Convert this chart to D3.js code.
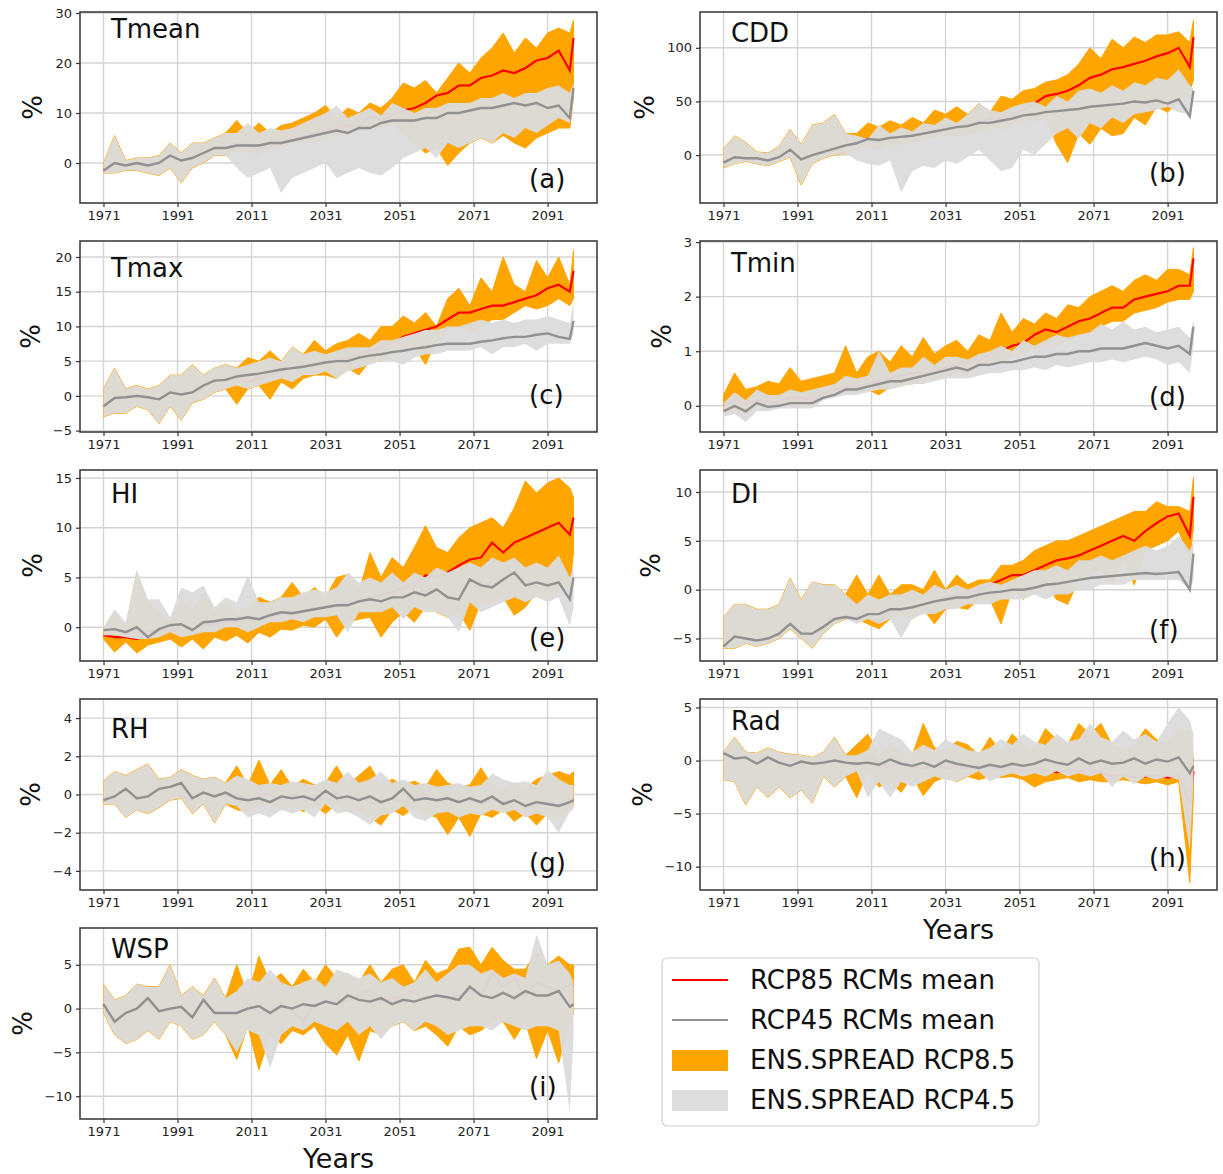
<!DOCTYPE html>
<html>
<head>
<meta charset="utf-8">
<script src="https://cdn.jsdelivr.net/npm/d3@7"></script>
<style>
  body { margin: 0; background: #fff; }
  svg { display: block; }
  text { font-family: "DejaVu Sans", sans-serif; }
</style>
</head>
<body>
<svg id="chart" width="1223" height="1174"></svg>
<script>
// years: 1971..2004 (historical) + 2007..2098 (scenarios), one sample every 3 years
var years = [1971,1974,1977,1980,1983,1986,1989,1992,1995,1998,2001,2004,
  2007,2010,2013,2016,2019,2022,2025,2028,2031,2034,2037,2040,2043,2046,2049,2052,
  2055,2058,2061,2064,2067,2070,2073,2076,2079,2082,2085,2088,2091,2094,2097,2098];
var xTicks = [1971,1991,2011,2031,2051,2071,2091];
var legendLabels = ['RCP85 RCMs mean','RCP45 RCMs mean','ENS.SPREAD RCP8.5','ENS.SPREAD RCP4.5'];

// Tmean
var tmean85Mean = [-1.5,0,-0.5,0,-0.5,0,1.5,0.5,1,2,3,3, 4,3.5,2.5,4.5,4,5,5.5,6,6.5,7,7.5,7.5,9.5,8.5,9.5,10.5,11,12,13.5,14,15.5,15.5,17,17.5,18.5,18,19,20.5,21,22.5,18.5,25];
var tmean85Hi = [0,5.5,0.5,1,1,1.5,4,2,4,4,5,6, 8.5,6,8,6,7.5,8,9,10,11.5,9,11,10,12,11,13,16,15,16.5,14,17,20,18,21,23,26,22,25,23,26,27,26,28.5];
var tmean85Lo = [-2,-2,-1.5,-1.5,-2,-2.5,-1,-4,-1,0,1.5,1.5, 2.5,2,1.5,3,3,4,4.5,4,5,5.5,6,6.5,7,7,8,6,4,2,3,-0.5,2,4,5,4,5.5,4,3,5,6,7,7,13];
var tmean45Mean = [-1.5,0,-0.5,0,-0.5,0,1.5,0.5,1,2,3,3, 3.5,3.5,3.5,4,4,4.5,5,5.5,6,6.5,6,7,7,8,8.5,8.5,8.5,9,9,10,10,10.5,11,11,11.5,12,11.5,12,11,11.5,9,15];
var tmean45Hi = [0,5.5,0.5,1,1,1.5,4,2,4,4,5,6, 6,8,6,7,6.5,7,8,9,10,11.5,9,10,11,9.5,12,11,10,11,11,12,12,12,13,13,14,13,14,14,15,15.5,14,16];
var tmean45Lo = [-2,-2,-1.5,-1.5,-2,-2.5,-1,-4,-1,0,1.5,1.5, -1,-3,-2,-1,-6,-3,-2,-1,0,-3,-2,-1,-2,-2.5,-1,1,2,3,1,4,3,4,5,4,6,5,7,6,7.5,9,8,12];

// CDD
var cdd85Mean = [-7,-2,-3,-3,-5,-2,5,-4,0,3,6,9, 12,14,12,16,17,19,21,24,26,27,29,30,34,34,38,42,48,55,57,60,65,72,75,80,82,85,88,92,95,100,82,110];
var cdd85Hi = [6,18,12,3,2,8,24,10,28,30,38,20, 20,30,26,32,28,35,30,42,38,45,38,48,40,55,52,60,62,68,70,75,85,100,90,108,100,110,105,112,112,115,105,126];
var cdd85Lo = [-12,-8,-6,-8,-10,-6,-2,-28,-8,-3,0,2, 5,8,5,10,8,12,14,16,18,18,20,22,25,24,28,30,32,35,10,-7,20,10,25,18,20,35,28,45,40,50,60,70];
var cdd45Mean = [-7,-2,-3,-3,-5,-2,5,-4,0,3,6,9, 11,15,14,16,17,18,20,22,24,26,27,30,30,32,34,37,38,40,41,42,43,45,46,47,48,50,49,51,48,52,36,60];
var cdd45Hi = [6,18,12,3,2,8,24,10,28,30,38,20, 18,15,28,20,26,22,30,28,35,30,38,48,42,40,45,48,50,45,55,50,60,62,58,65,60,68,65,72,70,80,65,62];
var cdd45Lo = [-12,-8,-6,-8,-10,-6,-2,-28,-8,-3,0,2, -5,-8,-10,-5,-35,-15,-10,-12,-5,-8,-2,5,-5,-15,-12,5,0,10,20,25,15,30,25,35,30,38,40,42,45,40,38,55];

// Tmax
var tmax85Mean = [-1.5,-0.3,-0.2,0,-0.2,-0.5,0.5,0.2,0.5,1.5,2.2,2.3, 2.5,2,2.5,3,3.5,4,4.5,4.5,5,5,5.5,6,6.5,7,7.5,8.5,9,9.5,10,11,12,12,12.5,13,13,13.5,14,14.5,15.5,16,15,18];
var tmax85Hi = [1,4,1,1.5,1,1.5,3,3,4.5,3,4,4.5, 4,5.5,5,6.5,5,7,6,8,6.5,7.5,8,9,8,10,10,11.5,10.5,12,10,14,15.5,13,17,15,20,16,15,19.5,17,20,16,21];
var tmax85Lo = [-3,-2.5,-2.5,-1.5,-2,-4,-1.5,-3.5,-1,-0.5,0.5,1, -1.2,1,1.5,-0.5,2,1,2.5,3,3,2.5,4,3,5,5,6,6.5,7,4.5,8,9.5,10,9,10,11,11,12,13,12.5,13,14,13,14];
var tmax45Mean = [-1.5,-0.3,-0.2,0,-0.2,-0.5,0.5,0.2,0.5,1.5,2.2,2.3, 2.8,3,3.2,3.5,3.8,4,4.2,4.5,4.8,5,5,5.5,5.8,6,6.3,6.5,6.8,7,7.3,7.5,7.5,7.5,7.8,8,8.3,8.5,8.5,8.8,9,8.5,8.2,10.8];
var tmax45Hi = [1,4,1,1.5,1,1.5,3,3,4.5,3,4,4.5, 4,4.5,5,5.5,5,7,6,6.5,6,6.5,7,7,7,8,8,8.5,9,9.5,9.5,10,10,10.5,11,10.5,11,10.5,11,11,11.5,11,10.5,13.5];
var tmax45Lo = [-3,-2.5,-2.5,-1.5,-2,-4,-1.5,-3.5,-1,-0.5,0.5,1, 1.5,1,1.5,2,2.5,2,3,3,3.5,2.5,3.5,4,4.5,5,5,4.5,5.5,6,6,6.5,6.5,6.5,7,6,7,7,7.5,6.5,7.5,7.5,7.5,9];

// Tmin
var tmin85Mean = [0,0.1,0.05,0.1,0.05,0.08,0.15,0.15,0.1,0.25,0.3,0.35, 0.35,0.4,0.45,0.5,0.55,0.6,0.6,0.65,0.7,0.75,0.8,0.85,0.95,1.0,1.1,1.15,1.3,1.4,1.35,1.45,1.55,1.6,1.7,1.8,1.8,1.95,2.0,2.05,2.1,2.2,2.2,2.7];
var tmin85Hi = [0.2,0.6,0.3,0.35,0.45,0.4,0.7,0.45,0.5,0.55,0.6,1.1, 0.6,0.9,1.0,0.8,1.1,0.9,1.25,0.95,1.1,1.2,1.0,1.3,1.2,1.7,1.35,1.6,1.5,1.7,1.6,1.85,1.8,2.0,2.1,2.2,2.1,2.3,2.4,2.3,2.5,2.5,2.4,2.9];
var tmin85Lo = [-0.1,-0.1,-0.15,0,-0.05,0,0,0.05,0,0.15,0.2,0.25, 0.25,0.3,0.2,0.35,0.4,0.4,0.5,0.5,0.55,0.6,0.6,0.7,0.75,0.8,0.9,0.95,1.05,1.1,1.1,1.2,1.3,1.35,1.45,1.55,1.55,1.7,1.75,1.8,1.9,1.95,1.95,2.1];
var tmin45Mean = [-0.1,0,-0.1,0.05,-0.02,0,0.05,0.05,0.05,0.15,0.2,0.3, 0.3,0.35,0.4,0.45,0.45,0.5,0.55,0.6,0.65,0.7,0.65,0.75,0.75,0.8,0.8,0.85,0.9,0.9,0.95,0.95,1.0,1.0,1.05,1.05,1.05,1.1,1.15,1.1,1.05,1.1,0.95,1.45];
var tmin45Hi = [0.05,0.25,0.1,0.3,0.2,0.2,0.3,0.25,0.3,0.35,0.4,0.55, 0.5,0.55,1.0,0.6,0.7,0.7,0.9,0.75,0.9,0.9,0.85,0.95,1.0,1.1,1.0,1.2,1.1,1.2,1.3,1.25,1.3,1.35,1.5,1.4,1.55,1.4,1.45,1.35,1.4,1.45,1.25,1.6];
var tmin45Lo = [-0.2,-0.15,-0.3,-0.1,-0.1,-0.05,-0.05,-0.05,-0.05,0.1,0.15,0.2, 0.2,0.25,0.3,0.3,0.35,0.4,0.4,0.45,0.5,0.5,0.5,0.55,0.6,0.6,0.65,0.65,0.7,0.65,0.75,0.7,0.75,0.8,0.8,0.85,0.8,0.85,0.9,0.85,0.75,0.8,0.6,1.1];

// HI
var hi85Mean = [-0.8,-1,-1,-1.2,-0.5,-0.3,-0.3,0,-0.2,0.2,0.3,0.5, 0.6,0.8,0.7,1.0,1.3,1.5,1.6,1.8,2.0,2.1,2.5,2.6,3.0,3.3,3.5,4.0,4.2,5.2,5.0,5.5,6.2,6.8,7.0,8.5,7.5,8.5,9.0,9.5,10.0,10.5,9.3,11];
var hi85Hi = [-0.2,1.5,0,5.5,2.5,1.5,0.5,3,1.5,3.5,1.5,2.5, 1.5,2,3,2.5,3,4.5,3,4,3,5,5.3,3.5,7.5,5,7,6,8,10.2,8,7.5,9,10,10.5,11,10,12,14.7,13.5,14.5,15,14,13];
var hi85Lo = [-1.2,-2.5,-1.5,-2.6,-1.8,-1.5,-1.2,-2,-1.2,-2.2,-1,-1.4, -0.8,-1.6,-0.5,-1,-0.2,-0.3,0.2,0,0.8,-1,0.5,0.8,1.0,-1,0.5,1.5,0.5,2,1.5,1,1.5,-0.3,2.5,2.5,3,1.2,2,3.5,2.8,3.5,4,7.5];
var hi45Mean = [-0.3,-0.2,-0.5,0,-1,-0.2,0.2,0.3,-0.3,0.5,0.6,0.8, 0.8,1.0,0.8,1.2,1.5,1.4,1.6,1.8,2.0,2.2,2.2,2.6,2.8,2.6,3.0,3.0,3.5,3.2,3.8,3.0,2.8,4.8,4.2,4.0,4.8,5.5,4.2,4.5,4.2,4.5,2.8,5];
var hi45Hi = [0,1.8,0.5,5.8,2.8,2.8,1,4,3.5,4.2,2,3, 2.5,5.2,2.5,2.5,3,3,3.5,3.8,3.5,4,5.5,4.5,5,4.5,5.5,4.5,5.5,5,6,5.5,6,6.5,6,7,6.5,7,6,6.5,6,7.2,5,6];
var hi45Lo = [-0.8,-0.8,-1,-1.2,-1.2,-1,-0.5,-1,-0.8,-0.5,-0.5,0, 0,-0.5,0,0.5,0.5,0.8,0.5,1,1,1.2,-0.5,1.5,1.5,1.5,2,0.8,2,1.5,1.5,1,-0.5,2.5,1.5,2,2.5,3,2.5,3,2.5,3,0.1,2];

// DI
var di85Mean = [-5.8,-4.8,-5,-5.2,-5,-4.5,-3.5,-4.5,-4.5,-3.8,-3,-2.8, -2.8,-2.8,-3.3,-2.2,-2,-1.8,-1.5,-1.2,-0.8,-0.5,-0.2,0,0.5,1.0,1.5,1.5,2.0,2.5,3.0,3.2,3.5,4.0,4.5,5.0,5.5,5.0,6.0,6.8,7.5,7.8,5.5,9.5];
var di85Hi = [-2.8,-1.5,-1.5,-2,-2,-1.5,1.2,-1,0.8,0.5,0.5,-0.5, 1.5,-0.5,1.5,-0.5,0.5,0.5,0,2,0,1.5,0.5,1,1,2.5,2.5,3,4,4.5,5,5,5.5,6,6.5,7,7.5,8,8,9,8.5,8.5,8,11.5];
var di85Lo = [-6,-6,-5.5,-5.8,-5.5,-5,-4,-5,-6,-4.5,-3.5,-3, -3,-3.5,-4,-3,-2.5,-3,-2,-3.5,-2,-1.8,-2,-1,-1,-3.5,0,-1,0,0.5,-1,-1.5,1,1.5,2,0.5,3,0.5,4,4.5,5,6,3,6.5];
var di45Mean = [-5.8,-4.8,-5,-5.2,-5,-4.5,-3.5,-4.5,-4.5,-3.8,-3,-2.8, -3,-2.5,-2.5,-2,-2,-1.8,-1.5,-1.2,-1.0,-0.8,-0.8,-0.5,-0.3,-0.2,0,0,0.2,0.5,0.6,0.8,1.0,1.2,1.3,1.4,1.5,1.6,1.7,1.6,1.7,1.8,0,3.7];
var di45Hi = [-2.8,-1.5,-1.5,-2,-2,-1.5,1.2,-1,0.8,0.5,0.5,-0.5, -1.5,-0.5,-1,-0.5,-0.5,0,-0.5,0.5,0,0.5,0,0.5,0.8,0.5,1,1.5,2,2,2.5,2,3,3,3.5,3,3.5,4,4.5,4,4.5,5.5,4,5];
var di45Lo = [-6,-6,-5.5,-5.8,-5.5,-5,-4,-5,-6,-4.5,-3.5,-3, -3.5,-3,-3.5,-3,-5,-3,-2.5,-2.5,-2,-2,-1.5,-1.5,-1.5,-1,-1,-1,-0.5,-1,-0.5,-0.5,0,0,0.5,0.5,0.5,1,1,1,1,1,0,1];

// RH
var rh85Mean = [-0.3,-0.1,0.3,-0.2,-0.1,0.3,0.4,0.6,-0.2,0.1,-0.1,0.1, 0,-0.3,-0.1,0,-0.3,0,-0.2,0,-0.3,0.1,-0.2,0,-0.5,-0.3,-0.2,-0.4,-0.1,0,-0.3,-0.1,-0.4,-0.3,-0.5,-0.3,-0.4,-0.3,-0.5,-0.6,-0.4,-0.5,-0.3,-0.2];
var rh85Hi = [0.7,1.2,1.0,1.3,1.6,0.8,0.9,1.3,1.0,0.8,0.9,0.6, 1.5,0.5,1.8,0.5,1.3,0.4,0.8,0.5,0.6,1.5,0.5,1.0,1.5,0.5,0.8,0.5,0.7,0.4,1.3,0.6,0.4,0.5,1.4,0.5,0.3,0.6,0.3,0.8,1.0,1.2,1.0,1.2];
var rh85Lo = [-0.5,-0.5,-1.2,-0.8,-1.0,-0.7,-0.3,-0.2,-1.0,-0.5,-1.5,-0.5, -0.8,-0.9,-0.6,-0.5,-0.8,-0.6,-0.9,-0.6,-1.0,-0.5,-0.9,-0.8,-1.2,-1.6,-0.8,-1.1,-0.7,-1.0,-1.2,-2.1,-1.2,-2.2,-1.0,-1.2,-0.8,-1.4,-1.0,-1.6,-1.0,-1.2,-0.8,-0.6];
var rh45Mean = [-0.3,-0.1,0.3,-0.2,-0.1,0.3,0.4,0.6,-0.2,0.1,-0.1,0.1, -0.2,-0.3,-0.2,-0.4,-0.1,-0.2,-0.1,-0.3,0.2,-0.2,-0.1,-0.3,-0.1,-0.4,-0.2,0.3,-0.3,-0.2,-0.3,-0.2,-0.4,-0.2,-0.4,-0.1,-0.5,-0.3,-0.6,-0.4,-0.5,-0.6,-0.4,-0.3];
var rh45Hi = [0.7,1.2,1.0,1.3,1.6,0.8,0.9,1.3,1.0,0.8,0.9,0.6, 1.0,0.8,0.5,0.6,0.5,0.7,0.6,0.5,0.8,0.6,1.2,0.6,0.8,1.2,0.6,0.8,0.5,0.6,0.4,0.5,0.6,0.4,0.5,1.1,0.8,0.6,0.7,0.5,1.3,0.8,0.5,0.5];
var rh45Lo = [-0.5,-0.5,-1.2,-0.8,-1.0,-0.7,-0.3,-0.2,-1.0,-0.5,-1.5,-0.5, -0.6,-1.2,-1.0,-1.2,-0.8,-1.0,-0.8,-1.2,-0.5,-1.0,-0.9,-1.2,-1.6,-1.1,-1.0,-0.6,-1.2,-1.4,-1.0,-0.9,-1.2,-1.0,-1.1,-0.8,-1.0,-0.8,-1.2,-1.0,-1.2,-2.0,-0.9,-0.8];

// Rad
var rad85Mean = [0.7,0.2,0.3,-0.3,0.3,-0.2,-0.5,-0.1,-0.3,-0.2,0,-0.2, -0.5,0.3,-0.2,-0.5,-0.3,-0.6,-0.8,-0.4,-0.7,-0.6,-0.8,-0.5,-0.7,-0.9,-0.6,-1.0,-0.8,-1.0,-1.1,-0.9,-1.0,-0.9,-1.1,-1.5,-1.3,-1.6,-1.5,-1.4,-1.6,-1.4,-4.0,-1.0];
var rad85Hi = [0.8,2.2,0.8,0.7,1.2,0.8,0.6,0.5,0.3,0.8,2.2,0.5, 1.5,2.5,0.5,1.6,0.8,0.5,3.5,1.2,1.0,1.8,1.5,0.5,2.2,0.8,2.5,1.5,1.0,3.0,2.0,1.5,3.5,2.5,3.5,1.5,1.0,1.5,3.0,2.0,1.5,3.0,2.8,0];
var rad85Lo = [-1.8,-2.0,-4.2,-2.5,-3.5,-2.5,-3.5,-2.8,-4.0,-1.5,-2.5,-1.5, -3.5,-1.0,-2.5,-2.0,-3.0,-1.5,-3.3,-2.0,-1.5,-2.0,-1.5,-1.8,-1.5,-1.6,-1.5,-1.8,-2.5,-2.0,-1.8,-1.6,-2.0,-1.8,-2.0,-2.0,-1.8,-2.0,-2.2,-2.0,-2.3,-2.0,-11.5,-3];
var rad45Mean = [0.7,0.2,0.3,-0.3,0.3,-0.2,-0.5,-0.1,-0.3,-0.2,0,-0.2, -0.3,-0.2,-0.4,0.1,-0.3,-0.5,-0.2,-0.6,0.0,-0.3,-0.5,-0.7,-0.4,-0.6,-0.3,-0.5,-0.3,0.1,-0.2,-0.4,0.2,-0.3,0.0,-0.3,-0.2,0.2,-0.3,0.1,-0.1,0.3,-1.2,-0.5];
var rad45Hi = [0.8,2.2,0.8,0.7,1.2,0.8,0.6,0.5,0.3,0.8,2.2,0.5, 0.5,1.0,3.0,2.5,2.0,0.8,1.5,1.0,2.0,1.5,1.0,0.8,1.2,2.0,1.5,2.5,1.8,1.5,2.5,1.8,2.0,3.5,2.2,1.8,2.8,2.0,2.5,1.8,3.5,5.0,3.8,2.5];
var rad45Lo = [-1.8,-2.0,-4.2,-2.5,-3.5,-2.5,-3.5,-2.8,-4.0,-1.5,-2.5,-1.5, -1.0,-3.5,-2.0,-3.5,-2.0,-2.5,-2.0,-1.5,-1.8,-2.0,-1.5,-1.0,-2.0,-1.5,-1.2,-1.5,-1.2,-1.5,-1.0,-1.5,-1.2,-1.5,-1.2,-2.5,-1.5,-2.2,-1.5,-1.8,-1.5,-1.8,-8.5,-2];

// WSP
var wsp85Mean = [0.5,-1.5,-0.5,0,1.2,-0.3,0,0.2,-1.0,1.0,-0.5,-0.5, -0.5,0.5,-0.5,0,0.5,-0.3,-1.5,0.5,0.8,0.5,1.0,1.5,2.2,0.8,1.2,1.5,2.0,1.0,1.5,1.2,1.5,2.0,1.5,4.0,2.5,3.5,1.5,3.0,2.5,2.0,2.8,2.5];
var wsp85Hi = [2.8,1.0,1.5,2.8,2.5,2.5,5.0,1.5,2.5,1.5,3.5,1.2, 5.0,1.5,6.0,3.0,4.0,2.5,4.5,3.0,5.0,3.5,4.0,3.0,5.0,3.0,4.5,5.0,3.0,5.5,4.0,4.5,6.8,7.0,5.0,7.0,5.5,4.5,4.5,6.5,5.0,6.0,5.0,5.0];
var wsp85Lo = [-0.5,-3.0,-4.0,-3.5,-2.5,-3.5,-1.5,-2.0,-3.5,-3.0,-1.5,-3.0, -5.8,-2.0,-7.0,-3.0,-4.0,-2.5,-3.0,-2.0,-4.0,-5.3,-3.0,-6.0,-2.5,-3.0,-2.0,-1.5,-2.5,-2.0,-3.0,-4.3,-2.0,-3.0,-2.5,-1.5,-1.5,-3.5,-1.5,-5.7,-2.5,-6.2,-1.5,-0.5];
var wsp45Mean = [0.5,-1.5,-0.5,0,1.2,-0.3,0,0.2,-1.0,1.0,-0.5,-0.5, -0.5,0,0.3,-0.5,0.3,0,0.5,0.3,0.8,0.5,1.5,1.0,0.8,1.2,0.5,1.0,0.8,1.2,1.5,1.3,1.0,2.5,1.5,1.2,1.8,1.2,2.0,1.5,1.5,2.0,0.2,0.5];
var wsp45Hi = [2.8,1.0,1.5,2.8,2.5,2.5,5.0,1.5,2.5,1.5,3.5,1.2, 2.0,3.5,3.0,4.5,3.0,2.5,3.0,3.5,2.5,4.5,4.0,3.5,4.0,3.0,3.5,2.5,3.0,4.5,3.0,4.0,5.0,5.0,4.0,4.5,3.5,4.0,3.5,8.5,5.0,5.5,4.0,3.0];
var wsp45Lo = [-0.5,-3.0,-4.0,-3.5,-2.5,-3.5,-1.5,-2.0,-3.5,-3.0,-1.5,-3.0, -5.0,-2.5,-3.0,-6.8,-3.0,-2.0,-2.5,-1.5,-2.0,-2.5,-1.5,-3.0,-2.0,-3.5,-2.0,-1.5,-2.5,-1.5,-2.0,-3.0,-2.5,-2.0,-2.0,-2.5,-1.5,-2.0,-2.5,-2.0,-2.0,-2.5,-11.8,-3];

// panel table (layout + references to the arrays above)
var panels = [
  {title:'Tmean', tag:'(a)', col:0, row:0, ylim:[-8,30.2], ticks:[0,10,20,30], titleY:26, tagY:15,
   m85:tmean85Mean, lo85:tmean85Lo, hi85:tmean85Hi, m45:tmean45Mean, lo45:tmean45Lo, hi45:tmean45Hi},
  {title:'CDD', tag:'(b)', col:1, row:0, ylim:[-44.7,133.4], ticks:[0,50,100], titleY:30, tagY:21,
   m85:cdd85Mean, lo85:cdd85Lo, hi85:cdd85Hi, m45:cdd45Mean, lo45:cdd45Lo, hi45:cdd45Hi},
  {title:'Tmax', tag:'(c)', col:0, row:1, ylim:[-5.2,22.3], ticks:[-5,0,5,10,15,20], titleY:36, tagY:28,
   m85:tmax85Mean, lo85:tmax85Lo, hi85:tmax85Hi, m45:tmax45Mean, lo45:tmax45Lo, hi45:tmax45Hi},
  {title:'Tmin', tag:'(d)', col:1, row:1, ylim:[-0.48,3.02], ticks:[0,1,2,3], titleY:31, tagY:26,
   m85:tmin85Mean, lo85:tmin85Lo, hi85:tmin85Hi, m45:tmin45Mean, lo45:tmin45Lo, hi45:tmin45Hi},
  {title:'HI', tag:'(e)', col:0, row:2, ylim:[-3.4,15.8], ticks:[0,5,10,15], titleY:33, tagY:14,
   m85:hi85Mean, lo85:hi85Lo, hi85:hi85Hi, m45:hi45Mean, lo45:hi45Lo, hi45:hi45Hi},
  {title:'DI', tag:'(f)', col:1, row:2, ylim:[-7.3,12.25], ticks:[-5,0,5,10], titleY:33, tagY:22,
   m85:di85Mean, lo85:di85Lo, hi85:di85Hi, m45:di45Mean, lo45:di45Lo, hi45:di45Hi},
  {title:'RH', tag:'(g)', col:0, row:3, ylim:[-5,5], ticks:[-4,-2,0,2,4], titleY:39, tagY:18,
   m85:rh85Mean, lo85:rh85Lo, hi85:rh85Hi, m45:rh45Mean, lo45:rh45Lo, hi45:rh45Hi},
  {title:'Rad', tag:'(h)', col:1, row:3, ylim:[-12.2,5.8], ticks:[-10,-5,0,5], titleY:31, tagY:23, xlabel:true,
   m85:rad85Mean, lo85:rad85Lo, hi85:rad85Hi, m45:rad45Mean, lo45:rad45Lo, hi45:rad45Hi},
  {title:'WSP', tag:'(i)', col:0, row:4, ylim:[-12.6,9.2], ticks:[-10,-5,0,5], titleY:30, tagY:23, xlabel:true,
   m85:wsp85Mean, lo85:wsp85Lo, hi85:wsp85Hi, m45:wsp45Mean, lo45:wsp45Lo, hi45:wsp45Hi}
];

var colX = [80, 700],
    rowY = [12, 241, 470, 699, 928],
    width = 517,
    height = 191;

var bandGrey = '#dcdcdc',
    bandGreyOpacity = 0.96,
    meanGrey = '#888888';

var svg = d3.select('#chart');
svg.append('rect').attr('width', 1223).attr('height', 1174).attr('fill', '#fff');

var x = d3.scaleLinear()
    .domain([1964.65, 2104.35])
    .range([0, width]);

panels.forEach(function(p, idx) {
    var g = svg.append('g')
        .attr('transform', 'translate(' + colX[p.col] + ',' + rowY[p.row] + ')');

    var y = d3.scaleLinear()
        .domain(p.ylim)
        .range([height, 0]);

    var clipId = 'clip' + idx;
    g.append('clipPath').attr('id', clipId)
      .append('rect')
        .attr('width', width)
        .attr('height', height);

    // grid
    g.append('g').selectAll('line')
        .data(xTicks)
      .enter().append('line')
        .attr('x1', function(d) { return x(d); })
        .attr('x2', function(d) { return x(d); })
        .attr('y1', 0)
        .attr('y2', height)
        .attr('stroke', '#d4d4d4')
        .attr('stroke-width', 1.4);

    g.append('g').selectAll('line')
        .data(p.ticks)
      .enter().append('line')
        .attr('x1', 0)
        .attr('x2', width)
        .attr('y1', function(d) { return y(d); })
        .attr('y2', function(d) { return y(d); })
        .attr('stroke', '#d4d4d4')
        .attr('stroke-width', 1.4);

    var plot = g.append('g').attr('clip-path', 'url(#' + clipId + ')');

    var band = function(lo, hi) {
        return d3.area()
            .x(function(d, i) { return x(years[i]); })
            .y0(function(d, i) { return y(lo[i]); })
            .y1(function(d, i) { return y(hi[i]); })(years);
    };
    var line = function(vals) {
        return d3.line()
            .x(function(d, i) { return x(years[i]); })
            .y(function(d) { return y(d); })(vals);
    };

    plot.append('path')
        .attr('d', band(p.lo85, p.hi85))
        .attr('fill', '#ffa500')
        .attr('stroke', '#ffa500')
        .attr('stroke-width', 1);

    plot.append('path')
        .attr('d', line(p.m85))
        .attr('fill', 'none')
        .attr('stroke', '#ff0000')
        .attr('stroke-width', 2.2);

    plot.append('path')
        .attr('d', band(p.lo45, p.hi45))
        .attr('fill', bandGrey)
        .attr('fill-opacity', bandGreyOpacity);

    plot.append('path')
        .attr('d', line(p.m45))
        .attr('fill', 'none')
        .attr('stroke', meanGrey)
        .attr('stroke-opacity', 0.9)
        .attr('stroke-width', 2.4);

    // axes
    var xAxis = g.append('g')
        .attr('transform', 'translate(0,' + height + ')')
        .call(d3.axisBottom(x).tickValues(xTicks).tickFormat(d3.format('d')).tickSize(4).tickPadding(4));
    var yAxis = g.append('g')
        .call(d3.axisLeft(y).tickValues(p.ticks).tickFormat(d3.format('d')).tickSize(4).tickPadding(4));

    [xAxis, yAxis].forEach(function(a) {
        a.select('.domain').remove();
        a.selectAll('line').attr('stroke', '#333').attr('stroke-width', 1.2);
        a.selectAll('text')
            .attr('fill', '#222')
            .style('font-size', '13px')
            .style('font-family', '"DejaVu Sans", sans-serif');
    });

    // spines
    g.append('rect')
        .attr('width', width)
        .attr('height', height)
        .attr('fill', 'none')
        .attr('stroke', '#333')
        .attr('stroke-width', 1.5);

    // y label
    var bb = yAxis.node().getBBox();
    g.append('text')
        .attr('transform', 'translate(' + (bb.x - 13) + ',' + (height / 2) + ') rotate(-90)')
        .attr('text-anchor', 'middle')
        .attr('fill', '#111')
        .style('font-size', '26px')
        .text('%');

    // panel title and tag
    g.append('text')
        .attr('x', x(1973))
        .attr('y', p.titleY)
        .attr('fill', '#111')
        .style('font-size', '26px')
        .text(p.title);

    g.append('text')
        .attr('x', x(2086))
        .attr('y', height - p.tagY)
        .attr('fill', '#111')
        .style('font-size', '26px')
        .text(p.tag);

    if (p.xlabel) {
        g.append('text')
            .attr('x', width / 2)
            .attr('y', height + 49)
            .attr('text-anchor', 'middle')
            .attr('fill', '#111')
            .style('font-size', '27px')
            .text('Years');
    }
});

// legend
var legend = svg.append('g').attr('transform', 'translate(662,958)');
legend.append('rect')
    .attr('width', 377)
    .attr('height', 168)
    .attr('rx', 5)
    .attr('fill', '#fff')
    .attr('stroke', '#d0d0d0')
    .attr('stroke-width', 1.2);

var legendItems = legend.selectAll('.item')
    .data(legendLabels)
  .enter().append('g')
    .attr('class', 'item')
    .attr('transform', function(d, i) { return 'translate(0,' + (22 + i * 40) + ')'; });

legendItems.each(function(d, i) {
    var it = d3.select(this);
    if (i < 2) {
        it.append('line')
            .attr('x1', 10).attr('x2', 66)
            .attr('y1', 0).attr('y2', 0)
            .attr('stroke', i === 0 ? '#ff0000' : meanGrey)
            .attr('stroke-opacity', i === 0 ? 1 : 0.9)
            .attr('stroke-width', 2);
    } else {
        it.append('rect')
            .attr('x', 10).attr('y', -10)
            .attr('width', 56).attr('height', 21)
            .attr('fill', i === 2 ? '#ffa500' : bandGrey)
            .attr('fill-opacity', i === 2 ? 1 : bandGreyOpacity);
    }
    it.append('text')
        .attr('x', 88)
        .attr('y', 9)
        .attr('fill', '#111')
        .style('font-size', '26px')
        .text(d);
});
</script>
</body>
</html>
